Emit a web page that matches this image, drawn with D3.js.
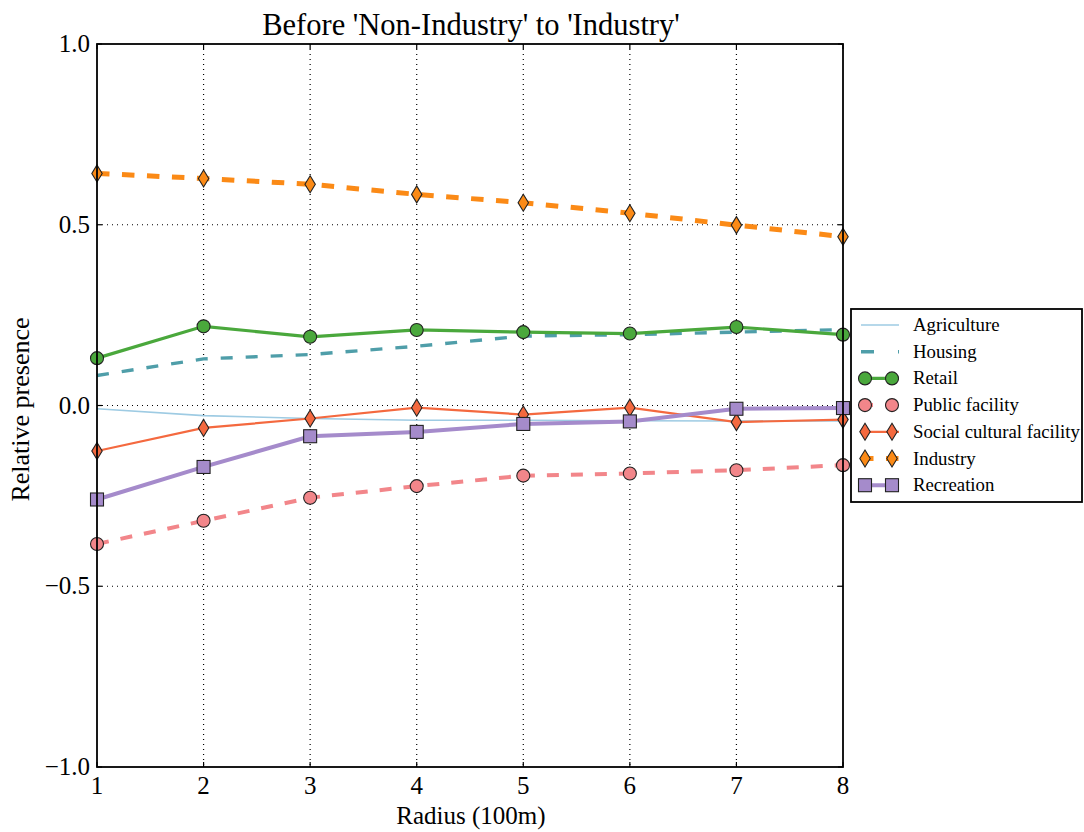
<!DOCTYPE html>
<html>
<head>
<meta charset="utf-8">
<title>Before 'Non-Industry' to 'Industry'</title>
<script src="https://d3js.org/d3.v7.min.js"></script>
<style>
  body { margin: 0; background: #fff; }
  text { font-family: "Liberation Serif", "DejaVu Serif", serif; fill: #000; }
  .grid line { stroke: #000; stroke-width: 1.2; stroke-dasharray: 1 4; }
</style>
</head>
<body>
<script>
// data
var radius = [1, 2, 3, 4, 5, 6, 7, 8];
var agriculture = [-0.009, -0.028, -0.036, -0.041, -0.041, -0.042, -0.043, -0.043];
var housing     = [0.083, 0.129, 0.141, 0.164, 0.192, 0.196, 0.203, 0.210];
var retail      = [0.131, 0.219, 0.190, 0.209, 0.203, 0.199, 0.217, 0.196];
var publicFac   = [-0.383, -0.319, -0.255, -0.223, -0.194, -0.188, -0.179, -0.165];
var socialCult  = [-0.126, -0.062, -0.036, -0.006, -0.025, -0.006, -0.046, -0.039];
var industry    = [0.642, 0.628, 0.612, 0.584, 0.561, 0.532, 0.499, 0.467];
var recreation  = [-0.260, -0.170, -0.085, -0.073, -0.051, -0.044, -0.009, -0.007];
var yTicks = [-1.0, -0.5, 0.0, 0.5, 1.0];

var series = [
  {name: "Agriculture", values: agriculture, color: "#9ecbe3", width: 1.6, dash: null, legDash: null, marker: null},
  {name: "Housing", values: housing, color: "#4f9ea9", width: 3.4, dash: "12 13", legDash: "13 24", marker: null},
  {name: "Retail", values: retail, color: "#4aa83c", width: 3.2, dash: null, legDash: null, marker: "circle"},
  {name: "Public facility", values: publicFac, color: "#f2868a", width: 4, dash: "12 12", legDash: "12 12", marker: "circle"},
  {name: "Social cultural facility", values: socialCult, color: "#f4693f", width: 2.2, dash: null, legDash: null, marker: "diamond"},
  {name: "Industry", values: industry, color: "#fb8a16", width: 5, dash: "12.5 12.5", legDash: "12.5 12.5", marker: "diamond"},
  {name: "Recreation", values: recreation, color: "#a58bcb", width: 4, dash: null, legDash: null, marker: "square"}
];

var W = 1084, H = 832;
var pL = 97, pR = 843, pT = 44, pB = 767;

var svg = d3.select("body").append("svg").attr("width", W).attr("height", H);

var x = d3.scaleLinear().domain([1, 8]).range([pL, pR]);
var y = d3.scaleLinear().domain([-1, 1]).range([pB, pT]);

// grid
var grid = svg.append("g").attr("class", "grid");
grid.selectAll(".gx").data(radius.slice(1, -1)).enter().append("line")
  .attr("x1", d => x(d)).attr("x2", d => x(d)).attr("y1", pT).attr("y2", pB);
grid.selectAll(".gy").data(yTicks.slice(1, -1)).enter().append("line")
  .attr("x1", pL).attr("x2", pR).attr("y1", d => y(d)).attr("y2", d => y(d));

// inward ticks on all sides
var ticks = svg.append("g").attr("stroke", "#000").attr("stroke-width", 1.2);
radius.forEach(function(d) {
  ticks.append("line").attr("x1", x(d)).attr("x2", x(d)).attr("y1", pB).attr("y2", pB - 5);
  ticks.append("line").attr("x1", x(d)).attr("x2", x(d)).attr("y1", pT).attr("y2", pT + 5);
});
yTicks.forEach(function(d) {
  ticks.append("line").attr("x1", pL).attr("x2", pL + 5).attr("y1", y(d)).attr("y2", y(d));
  ticks.append("line").attr("x1", pR).attr("x2", pR - 5).attr("y1", y(d)).attr("y2", y(d));
});

// tick labels
svg.selectAll(".xl").data(radius).enter().append("text")
  .attr("x", d => x(d)).attr("y", pB + 27)
  .attr("text-anchor", "middle").attr("font-size", 25)
  .text(d => d);
svg.selectAll(".yl").data(yTicks).enter().append("text")
  .attr("x", pL - 7).attr("y", d => y(d) + 8)
  .attr("text-anchor", "end").attr("font-size", 25)
  .text(d => d3.format(".1f")(d).replace("-", "\u2212"));

// marker drawing
function drawMarker(g, type, cx, cy, color) {
  if (type === "circle") {
    g.append("circle").attr("cx", cx).attr("cy", cy).attr("r", 6.5)
      .attr("fill", color).attr("stroke", "#222").attr("stroke-width", 1.1);
  } else if (type === "square") {
    g.append("rect").attr("x", cx - 6.5).attr("y", cy - 6.5).attr("width", 13).attr("height", 13)
      .attr("fill", color).attr("stroke", "#222").attr("stroke-width", 1.1);
  } else if (type === "diamond") {
    var h = 8.5, w = 5.2;
    g.append("path")
      .attr("d", "M" + cx + "," + (cy - h) + "L" + (cx + w) + "," + cy + "L" + cx + "," + (cy + h) + "L" + (cx - w) + "," + cy + "Z")
      .attr("fill", color).attr("stroke", "#222").attr("stroke-width", 1.1);
  }
}

var line = d3.line().x((d, i) => x(radius[i])).y(d => y(d));
var plot = svg.append("g");
series.forEach(function(s) {
  var g = plot.append("g");
  g.append("path").datum(s.values)
    .attr("d", line).attr("fill", "none")
    .attr("stroke", s.color).attr("stroke-width", s.width)
    .attr("stroke-dasharray", s.dash);
  if (s.marker) {
    s.values.forEach(function(v, i) { drawMarker(g, s.marker, x(radius[i]), y(v), s.color); });
  }
});

// frame
svg.append("rect").attr("x", pL).attr("y", pT).attr("width", pR - pL).attr("height", pB - pT)
  .attr("fill", "none").attr("stroke", "#000").attr("stroke-width", 1.8);

// title and axis labels
svg.append("text").attr("x", 471).attr("y", 35)
  .attr("text-anchor", "middle").attr("font-size", 30.5)
  .text("Before 'Non-Industry' to 'Industry'");
svg.append("text").attr("x", 471).attr("y", 824)
  .attr("text-anchor", "middle").attr("font-size", 25)
  .text("Radius (100m)");
svg.append("text").attr("transform", "translate(29," + ((pT + pB) / 2 + 4) + ") rotate(-90)")
  .attr("text-anchor", "middle").attr("font-size", 26)
  .text("Relative presence");

// legend
var lg = svg.append("g");
lg.append("rect").attr("x", 851).attr("y", 309).attr("width", 231).attr("height", 193)
  .attr("fill", "#fff").attr("stroke", "#000").attr("stroke-width", 1.8);
series.forEach(function(s, i) {
  var ly = 325 + i * 26.7;
  var row = lg.append("g");
  row.append("line").attr("x1", 861).attr("x2", 899).attr("y1", ly).attr("y2", ly)
    .attr("stroke", s.color).attr("stroke-width", s.width)
    .attr("stroke-dasharray", s.legDash);
  if (s.marker) {
    drawMarker(row, s.marker, 865, ly, s.color);
    drawMarker(row, s.marker, 892, ly, s.color);
  }
  row.append("text").attr("x", 913).attr("y", ly + 6).attr("font-size", 18.8).text(s.name);
});
</script>
</body>
</html>
